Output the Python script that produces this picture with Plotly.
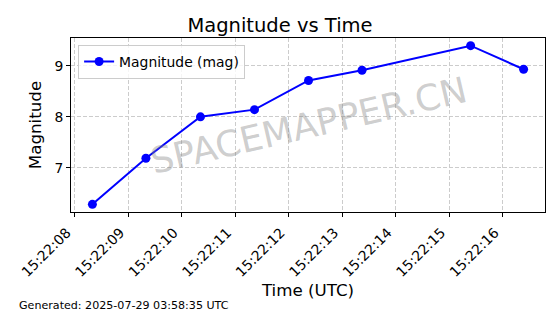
import plotly.graph_objects as go

times = ["2025-07-29 15:22:08.330", "2025-07-29 15:22:09.330", "2025-07-29 15:22:10.350",
         "2025-07-29 15:22:11.360", "2025-07-29 15:22:12.370", "2025-07-29 15:22:13.370",
         "2025-07-29 15:22:15.400", "2025-07-29 15:22:16.390"]
magnitude = [6.29, 7.19, 8.0, 8.14, 8.71, 8.91, 9.39, 8.93]
tick_vals = ["2025-07-29 15:22:%02d" % s for s in range(8, 17)]
tick_text = ["15:22:%02d" % s for s in range(8, 17)]

font = "DejaVu Sans"
fig = go.Figure()
fig.add_trace(go.Scatter(x=times, y=magnitude, mode="lines+markers", name="Magnitude (mag)",
                         line=dict(color="#0000ff", width=2),
                         marker=dict(color="#0000ff", size=9)))

fig.update_layout(
    width=560, height=314,
    margin=dict(l=71, r=15, t=38, b=102),
    paper_bgcolor="white", plot_bgcolor="white",
    font=dict(family=font, color="black"),
    title=dict(text="Magnitude vs Time", x=0.5, xanchor="center", y=0.92, yanchor="middle",
               font=dict(size=19.5, family=font)),
    showlegend=True,
    legend=dict(x=0.015, y=0.96, xanchor="left", yanchor="top",
                bordercolor="#cccccc", borderwidth=1, bgcolor="rgba(255,255,255,0.8)",
                font=dict(size=13.9, family=font)),
    xaxis=dict(range=["2025-07-29 15:22:07.930", "2025-07-29 15:22:16.790"],
               tickvals=tick_vals, ticktext=tick_text, tickangle=-45,
               ticklabelshift=-8, ticklabelstandoff=2,
               tickfont=dict(size=13.9), ticks="outside", ticklen=4, tickcolor="black",
               showline=True, linecolor="black", linewidth=1, mirror=True,
               showgrid=True, gridcolor="#cccccc", griddash="4px,2px", gridwidth=1,
               title=dict(text="Time (UTC)", font=dict(size=16.7), standoff=4),
               zeroline=False),
    yaxis=dict(range=[6.14, 9.54], tickvals=[7, 8, 9], tickfont=dict(size=13.9),
               ticks="outside", ticklen=4, tickcolor="black",
               showline=True, linecolor="black", linewidth=1, mirror=True,
               showgrid=True, gridcolor="#cccccc", griddash="4px,2px", gridwidth=1,
               title=dict(text="Magnitude", font=dict(size=16.7), standoff=8),
               zeroline=False),
)

fig.add_annotation(text="SPACEMAPPER.CN", xref="paper", yref="paper", x=0.5, y=0.5,
                   showarrow=False, textangle=-13,
                   font=dict(size=36, family=font, color="rgba(128,128,128,0.4)"))
fig.add_annotation(text="Generated: 2025-07-29 03:58:35 UTC", xref="paper", yref="paper",
                   x=(17 - 71) / 474, y=(212 - 305) / 174, xanchor="left", yanchor="middle",
                   showarrow=False, font=dict(size=11.1, family=font, color="black"))

fig.write_html("out.html")
